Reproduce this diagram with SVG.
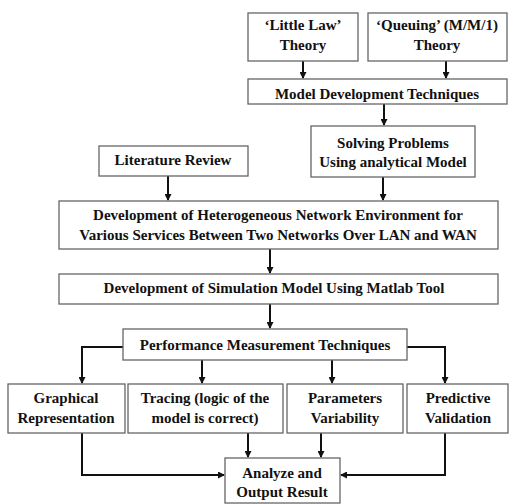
<svg xmlns="http://www.w3.org/2000/svg" width="517" height="504" viewBox="0 0 517 504">
<style>
.b{fill:#fff;stroke:#666;stroke-width:1.3}
.t{font-family:"Liberation Serif","Times New Roman",serif;font-weight:bold;font-size:15px;fill:#111;text-anchor:middle}
.c{fill:none;stroke:#111;stroke-width:2}
</style>
<defs>
<marker id="ah" markerWidth="7" markerHeight="7" refX="6" refY="3.5" orient="auto" markerUnits="userSpaceOnUse">
<path d="M0,0 L7,3.5 L0,7 z" fill="#111"/>
</marker>
</defs>
<rect width="517" height="504" fill="#fff"/>
<g id="connectors">
<path class="c" d="M303,61 V78" marker-end="url(#ah)"/>
<path class="c" d="M446,61 V78" marker-end="url(#ah)"/>
<path class="c" d="M384,104 V125" marker-end="url(#ah)"/>
<path class="c" d="M168,176 V200" marker-end="url(#ah)"/>
<path class="c" d="M383,177 V200" marker-end="url(#ah)"/>
<path class="c" d="M270,249 V273" marker-end="url(#ah)"/>
<path class="c" d="M270,304 V328" marker-end="url(#ah)"/>
<path class="c" d="M123,347 H82 V383" marker-end="url(#ah)"/>
<path class="c" d="M407,347 H445 V383" marker-end="url(#ah)"/>
<path class="c" d="M202,360 V383" marker-end="url(#ah)"/>
<path class="c" d="M332,360 V383" marker-end="url(#ah)"/>
<path class="c" d="M248,433 V457" marker-end="url(#ah)"/>
<path class="c" d="M321,433 V457" marker-end="url(#ah)"/>
<path class="c" d="M82,433 V475 H224" marker-end="url(#ah)"/>
<path class="c" d="M445,433 V475 H341" marker-end="url(#ah)"/>
</g>
<g id="little">
<rect class="b" x="248" y="13" width="110" height="48"/>
<text class="t" x="303" y="30">‘Little Law’</text>
<text class="t" x="303" y="50">Theory</text>
</g>
<g id="queuing">
<rect class="b" x="368" y="13" width="139" height="48"/>
<text class="t" x="437" y="30">‘Queuing’ (M/M/1)</text>
<text class="t" x="437" y="50">Theory</text>
</g>
<g id="modeldev">
<rect class="b" x="248" y="79" width="259" height="25"/>
<text class="t" x="377" y="99">Model Development Techniques</text>
</g>
<g id="solving">
<rect class="b" x="311" y="126" width="164" height="51"/>
<text class="t" x="393" y="148">Solving Problems</text>
<text class="t" x="393" y="167">Using analytical Model</text>
</g>
<g id="literature">
<rect class="b" x="99" y="146" width="149" height="30"/>
<text class="t" x="173" y="165">Literature Review</text>
</g>
<g id="hetero">
<rect class="b" x="59" y="201" width="439" height="48"/>
<text class="t" x="278" y="220">Development of Heterogeneous Network Environment for</text>
<text class="t" x="278" y="240">Various Services Between Two Networks Over LAN and WAN</text>
</g>
<g id="simulation">
<rect class="b" x="59" y="274" width="439" height="30"/>
<text class="t" x="274" y="293">Development of Simulation Model Using Matlab Tool</text>
</g>
<g id="performance">
<rect class="b" x="123" y="329" width="284" height="31"/>
<text class="t" x="265" y="350">Performance Measurement Techniques</text>
</g>
<g id="graphical">
<rect class="b" x="8" y="384" width="117" height="49"/>
<text class="t" x="66" y="403">Graphical</text>
<text class="t" x="66" y="423">Representation</text>
</g>
<g id="tracing">
<rect class="b" x="128" y="384" width="155" height="49"/>
<text class="t" x="205" y="403">Tracing (logic of the</text>
<text class="t" x="205" y="423">model is correct)</text>
</g>
<g id="parameters">
<rect class="b" x="287" y="384" width="116" height="49"/>
<text class="t" x="345" y="403">Parameters</text>
<text class="t" x="345" y="423">Variability</text>
</g>
<g id="predictive">
<rect class="b" x="407" y="384" width="101" height="49"/>
<text class="t" x="458" y="403">Predictive</text>
<text class="t" x="458" y="423">Validation</text>
</g>
<g id="analyze">
<rect class="b" x="225" y="458" width="115" height="45"/>
<text class="t" x="282" y="478">Analyze and</text>
<text class="t" x="282" y="497">Output Result</text>
</g>
</svg>
